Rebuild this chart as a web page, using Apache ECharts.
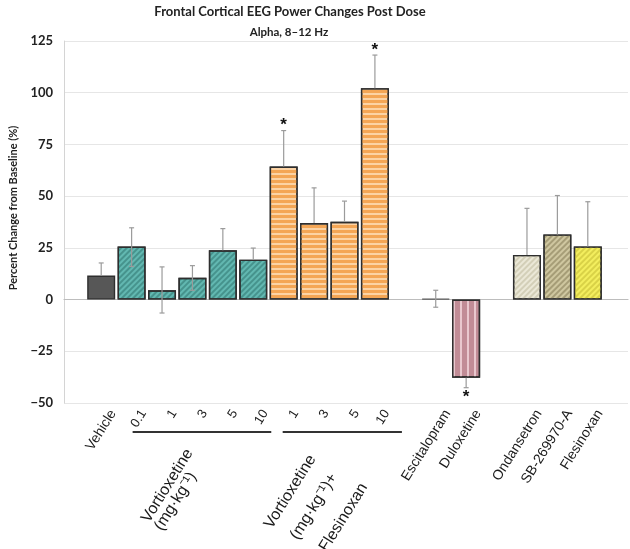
<!DOCTYPE html>
<html><head><meta charset="utf-8">
<script src="https://cdn.jsdelivr.net/npm/echarts@6/dist/echarts.min.js"></script>
<style>html,body{margin:0;padding:0;background:#fff}#c{width:630px;height:549px}</style>
</head><body><div id="c"></div>
<script>
// ---- data ----
const categories = ['Vehicle','0.1','1','3','5','10','1','3','5','10','','Escitalopram','Duloxetine','','Ondansetron','SB-269970-A','Flesinoxan'];
const meanChange = [11.6,25.6,4.5,10.5,23.8,19.3,64.3,37.0,37.6,102.2,null,0.4,-37.8,null,21.6,31.5,25.7];
const errUpper   = [17.7,34.7,15.8,16.4,34.3,24.9,81.7,54.0,47.6,118.2,null,4.5,null,null,44.1,50.3,47.3];
const errLower   = [null,16.0,-6.5,4.5,null,null,null,null,null,null,null,-3.7,-42.6,null,null,null,null];
const significant = [0,0,0,0,0,0,1,0,0,1,0,0,1,0,0,0,0];
const yTickValues = [-50,-25,0,25,50,75,100,125];
const groupLines = [['Vortioxetine','(mg·kg⁻¹)'], ['Vortioxetine','(mg·kg⁻¹)+','Flesinoxan']];
const groupSpans = [[1,5],[6,9]];
const titleText = 'Frontal Cortical EEG Power Changes Post Dose';
const subtitleText = 'Alpha, 8\u201312 Hz';
const yAxisTitle = 'Percent Change from Baseline (%)';

// ---- styles (per category) ----
const fillKind = ['vehicle','vort','vort','vort','vort','vort','combo','combo','combo','combo','none','escit','dulox','none','ond','sb','fles'];
const diag = -Math.PI/4;
const fills = {
  vehicle:{color:'#575757'},
  vort:{color:'#62b8b1', decal:{symbol:'rect',symbolSize:1,color:'rgba(30,95,90,0.42)',dashArrayX:[1,0],dashArrayY:[1.4,1.6],rotation:diag}},
  combo:{color:'#fcd3a4', decal:{symbol:'rect',symbolSize:1,color:'#f4a655',dashArrayX:[1,0],dashArrayY:[2.4,1.6],rotation:0}},
  escit:{color:'#6a6a6a'},
  dulox:{color:'#c18c96', decal:{symbol:'rect',symbolSize:1,color:'rgba(240,210,216,0.85)',dashArrayX:[1,0],dashArrayY:[2,5],rotation:Math.PI/2}},
  ond:{color:'#ebe8d7', decal:{symbol:'rect',symbolSize:1,color:'#d3cfb8',dashArrayX:[1,0],dashArrayY:[1.2,1.8],rotation:diag}},
  sb:{color:'#cfc7a0', decal:{symbol:'rect',symbolSize:1,color:'#a69d77',dashArrayX:[1,0],dashArrayY:[1.2,1.8],rotation:diag}},
  fles:{color:'#f3ee5e', decal:{symbol:'rect',symbolSize:1,color:'#d9d247',dashArrayX:[1,0],dashArrayY:[1.2,1.8],rotation:diag}},
  none:{color:'transparent'}
};

const chart = echarts.init(document.getElementById('c'), null, {renderer:'canvas'});
const yMin = yTickValues[0], yMax = yTickValues[yTickValues.length-1], yStep = yTickValues[1]-yTickValues[0];
const GT = 41, GB = 146;
const labelShift = 12;

const barData = meanChange.map((v,i) => ({
  value: v == null ? '-' : v,
  itemStyle: Object.assign({borderColor:'#2e2e2e', borderWidth:1.4}, fills[fillKind[i]])
}));
barData[11].itemStyle.borderColor = '#5a5a5a';

const errData = [];
meanChange.forEach((m,i) => {
  if (m == null) return;
  errData.push([i, m, errUpper[i]==null?NaN:errUpper[i], errLower[i]==null?NaN:errLower[i], significant[i]]);
});

function renderErr(params, api){
  const i = api.value(0), m = api.value(1), hi = api.value(2), lo = api.value(3), sig = api.value(4);
  const kids = [];
  const st = {stroke:'#9b9b9b', lineWidth:1.2};
  const p0 = api.coord([i, m]);
  let pHi = null, pLo = null;
  if (!isNaN(hi)) { pHi = api.coord([i, hi]); }
  if (!isNaN(lo)) { pLo = api.coord([i, lo]); }
  [pHi, pLo].forEach(p => {
    if (!p) return;
    kids.push({type:'line', shape:{x1:p0[0],y1:p0[1],x2:p[0],y2:p[1]}, style:st});
    kids.push({type:'line', shape:{x1:p[0]-2.5,y1:p[1],x2:p[0]+2.5,y2:p[1]}, style:st});
  });
  if (sig) {
    const up = m >= 0;
    const p = up ? (pHi || p0) : (pLo || p0);
    kids.push({type:'text', x:p[0], y: up ? p[1]-5 : p[1]+10,
      style:{text:'*', fill:'#111', font:'bold 17px "Liberation Sans"', align:'center', verticalAlign:'middle'}});
  }
  return {type:'group', children:kids};
}

const catLabelData = categories.map(c => ({
  value: c,
  textStyle: { fontSize: isNaN(Number(c)) || c==='' ? 14 : 13 }
}));

const option = {
  animation:false,
  backgroundColor:'#fff',
  title:[
    {text:titleText, left:285, top:0, textAlign:'center', textStyle:{fontFamily:'Lato', fontWeight:'bold', fontSize:13, color:'#222'}},
    {text:subtitleText, left:284, top:21, textAlign:'center', textStyle:{fontFamily:'Lato', fontWeight:'bold', fontSize:11.5, color:'#222'}}
  ],
  grid:[
    {left:86, right:27, top:GT, bottom:GB},
    {left:61, right:2, top:GT, bottom:GB},
    {left:86+labelShift, right:27-labelShift, top:GT, bottom:GB}
  ],
  xAxis:[
    {type:'category', gridIndex:0, data:categories, axisLine:{show:false}, axisTick:{show:false}, axisLabel:{show:false}},
    {type:'category', gridIndex:1, data:[''], axisLine:{show:true, onZero:true, lineStyle:{color:'#bdbdbd', width:1.2}}, axisTick:{show:false}, axisLabel:{show:false}},
    {type:'category', gridIndex:2, data:catLabelData, axisLine:{show:false}, axisTick:{show:false},
     axisLabel:{show:true, interval:0, rotate:58, margin:8, color:'#1a1a1a', fontFamily:'Liberation Sans', fontSize:14}}
  ],
  yAxis:[
    {type:'value', gridIndex:0, min:yMin, max:yMax, interval:yStep, show:false},
    {type:'value', gridIndex:1, min:yMin, max:yMax, interval:yStep,
     axisLine:{show:true, lineStyle:{color:'#d4d4d4'}}, axisTick:{show:false},
     splitLine:{lineStyle:{color:'#e6e6e6'}},
     axisLabel:{color:'#222', fontFamily:'Lato', fontWeight:'bold', fontSize:13, margin:11,
       formatter: v => v < 0 ? '\u2212' + Math.abs(v) : String(v)},
     name:yAxisTitle, nameLocation:'middle', nameGap:45, nameRotate:90,
     nameTextStyle:{color:'#222', fontFamily:'Lato', fontWeight:'bold', fontSize:11, padding:[0,0,0,28]}},
    {type:'value', gridIndex:2, min:yMin, max:yMax, show:false}
  ],
  series:[
    {type:'bar', xAxisIndex:0, yAxisIndex:0, data:barData, barWidth:28, z:2},
    {type:'custom', xAxisIndex:0, yAxisIndex:0, data:errData, renderItem:renderErr, z:3}
  ]
};
chart.setOption(option);

// group brackets and labels, positioned from the category axis
const theta = 58*Math.PI/180;
const bracketPad = [[1,18],[-1,27]];
// baseline-start of each label line, relative to the group's centre
const lineAnchors = [[[-54,517],[-41,525]], [[-68,523],[-42,534],[-13,546]]];
const gfx = [];
groupSpans.forEach((s,g) => {
  const xa = chart.convertToPixel({xAxisIndex:0}, s[0]);
  const xb = chart.convertToPixel({xAxisIndex:0}, s[1]);
  gfx.push({type:'line', shape:{x1:xa+bracketPad[g][0], y1:432, x2:xb+bracketPad[g][1], y2:432}, style:{stroke:'#333', lineWidth:1.8}});
  const mid = (xa + xb)/2;
  groupLines[g].forEach((t,k) => {
    gfx.push({type:'text', x: mid + lineAnchors[g][k][0], y: lineAnchors[g][k][1], rotation: theta,
      style:{text:t, fill:'#1a1a1a', font:'16px "Liberation Sans"', align:'left', verticalAlign:'alphabetic'}});
  });
});
chart.setOption({graphic:gfx});
</script></body></html>
